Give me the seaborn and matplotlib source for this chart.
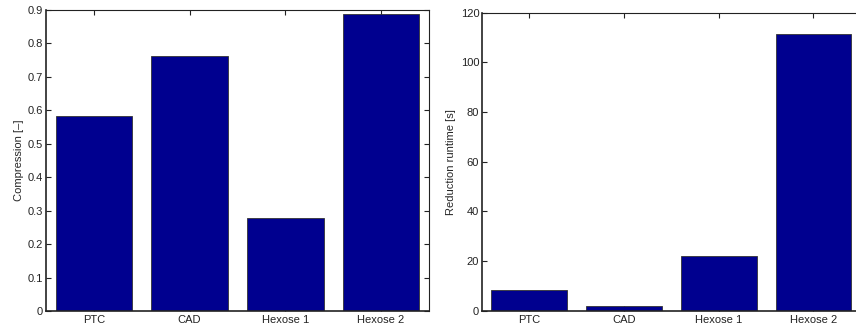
import matplotlib
matplotlib.use("Agg")
import matplotlib.pyplot as plt
import seaborn as sns
import pandas as pd

datasets = ["PTC", "CAD", "Hexose 1", "Hexose 2"]
compression = [0.584, 0.761, 0.277, 0.887]
runtime = [8.2, 2.0, 21.9, 111.3]

sns.set_style("white")
plt.rcParams["font.family"] = ["Liberation Sans", "DejaVu Sans"]
plt.rcParams["font.size"] = 8

df = pd.DataFrame({"dataset": datasets, "compression": compression, "runtime": runtime})

fig = plt.figure(figsize=(8.56, 3.31), dpi=100)
ax1 = fig.add_axes([0.0537, 0.0604, 0.4474, 0.9094])
ax2 = fig.add_axes([0.5631, 0.0613, 0.4424, 0.9003])

bar_color = "#00008F"


def style_axis(ax, ylabel, ylim, yticks):
    ax.set_ylim(*ylim)
    ax.set_xlim(-0.5, 3.5)
    ax.set_yticks(yticks)
    ax.set_xlabel("")
    ax.set_ylabel(ylabel, fontsize=8, labelpad=3)
    ax.tick_params(direction="in", length=3.5, width=0.8, top=True, right=True,
                   labelsize=8, colors="#222222", pad=2,
                   bottom=True, left=True)
    ax.tick_params(axis="x", pad=3)
    for s in ax.spines.values():
        s.set_visible(True)
        s.set_color("#222222")
        s.set_linewidth(0.8)
    ax.spines["bottom"].set_linewidth(1.2)
    ax.spines["left"].set_linewidth(1.2)


sns.barplot(data=df, x="dataset", y="compression", color=bar_color,
            saturation=1, width=0.8, edgecolor="#333333", linewidth=0.6, ax=ax1)
style_axis(ax1, "Compression [\u2013]", (0, 0.9), [0, 0.1, 0.2, 0.3, 0.4, 0.5, 0.6, 0.7, 0.8, 0.9])
ax1.set_yticklabels(["0", "0.1", "0.2", "0.3", "0.4", "0.5", "0.6", "0.7", "0.8", "0.9"])

sns.barplot(data=df, x="dataset", y="runtime", color=bar_color,
            saturation=1, width=0.8, edgecolor="#333333", linewidth=0.6, ax=ax2)
style_axis(ax2, "Reduction runtime [s]", (0, 120), [0, 20, 40, 60, 80, 100, 120])

fig.savefig("out.png", dpi=100)
